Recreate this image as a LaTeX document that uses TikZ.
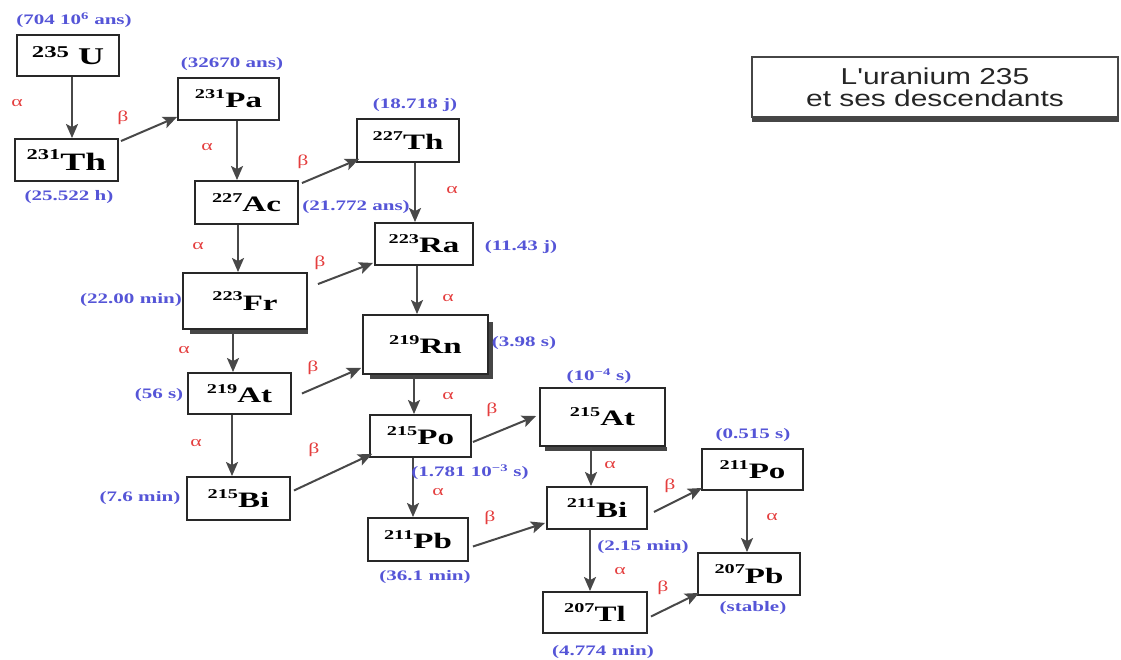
\documentclass[tikz,border=0pt]{standalone}
\usepackage{fontspec}
\setmainfont{Liberation Serif}
\newfontfamily\wideserif[FakeStretch=1.5]{Liberation Serif}
\newfontfamily\labelserif[FakeStretch=1.45]{Liberation Serif}
\newfontfamily\titlesans[FakeStretch=1.3]{Liberation Sans}
\usetikzlibrary{arrows.meta}

\definecolor{halfblue}{RGB}{85,85,215}
\definecolor{decayred}{RGB}{228,62,62}
\definecolor{ink}{RGB}{40,40,40}
\definecolor{wire}{RGB}{72,72,72}
\definecolor{shade}{RGB}{70,70,70}

% mass number raised before the element symbol
\newcommand{\nuc}[3][13.5]{\raisebox{0.42em}{\fontsize{#1}{#1}\selectfont #2}#3}

\tikzset{
  nucbox/.style={draw=ink, line width=1.9pt, inner sep=0pt,
    font=\wideserif\bfseries\fontsize{22}{24}\selectfont},
  sz/.style 2 args={minimum width=#1pt, minimum height=#2pt},
  halflife/.style={text=halfblue, inner sep=0pt,
    font=\labelserif\bfseries\fontsize{14.5}{16}\selectfont},
  decay/.style={text=decayred, inner sep=0pt,
    font=\labelserif\fontsize{15}{16}\selectfont},
  conn/.style={draw=wire, line width=2pt,
    -{Stealth[length=14pt,width=12pt,inset=3pt]}},
  shadowline/.style={draw=shade, line width=4.5pt},
}

\begin{document}
\begin{tikzpicture}[x=1pt, y=-1pt]
\useasboundingbox (0,0) rectangle (1121,659);

% ---- title box ----
\node[draw=shade, line width=1.2pt, sz={366}{60}, inner sep=0pt, text=black!85,
      font=\titlesans\fontsize{23}{25}\selectfont, align=center] (title) at (935,87)
  {L'uranium 235\\[-3pt]et ses descendants};
\draw[shadowline, line width=4pt] ([shift={(1,2.5)}]title.south west) -- ([shift={(0,2.5)}]title.south east);

% ---- nuclides ----
\node[nucbox, sz={102}{41}, font=\wideserif\bfseries\fontsize{24}{26}\selectfont]
  (U235) at (68,55.5) {\raisebox{0.28em}{\fontsize{16.5}{16}\selectfont 235}~U};
\node[nucbox, sz={103}{42}, font=\wideserif\bfseries\fontsize{25}{26}\selectfont]
  (Th231) at (66.5,160) {\nuc[15]{231}{Th}};
\node[nucbox, sz={101}{42}] (Pa231) at (228.5,99) {\nuc{231}{Pa}};
\node[nucbox, sz={103}{43}] (Ac227) at (246.5,202.5) {\nuc{227}{Ac}};
\node[nucbox, sz={102}{43}] (Th227) at (408,140.5) {\nuc{227}{Th}};
\node[nucbox, sz={98}{42}] (Ra223) at (424,244) {\nuc{223}{Ra}};
\node[nucbox, sz={124}{56}] (Fr223) at (245,301) {\nuc{223}{Fr}};
\node[nucbox, sz={125}{59}] (Rn219) at (425.5,344.5) {\nuc{219}{Rn}};
\node[nucbox, sz={103}{41}] (At219) at (239.5,393.5) {\nuc{219}{At}};
\node[nucbox, sz={101}{42}] (Po215) at (420.5,436) {\nuc{215}{Po}};
\node[nucbox, sz={125}{58}] (At215) at (602.5,417) {\nuc{215}{At}};
\node[nucbox, sz={103}{43}] (Bi215) at (238.5,498.5) {\nuc{215}{Bi}};
\node[nucbox, sz={100}{42}] (Bi211) at (597,508) {\nuc{211}{Bi}};
\node[nucbox, sz={101}{41}] (Po211) at (752.5,469.5) {\nuc{211}{Po}};
\node[nucbox, sz={100}{43}] (Pb211) at (418,539.5) {\nuc{211}{Pb}};
\node[nucbox, sz={102}{42}] (Pb207) at (749,574) {\nuc{207}{Pb}};
\node[nucbox, sz={104}{41}] (Tl207) at (595,612.5) {\nuc{207}{Tl}};

% shaded lower edges of the larger boxes
\draw[shadowline] ([shift={(8,2.2)}]Fr223.south west) -- ([shift={(0,2.2)}]Fr223.south east);
\draw[shadowline, line join=miter] ([shift={(8,2.2)}]Rn219.south west) -- ([shift={(2.2,2.2)}]Rn219.south east)
                  -- ([shift={(2.2,8)}]Rn219.north east);
\draw[shadowline] ([shift={(6,2.2)}]At215.south west) -- ([shift={(1,2.2)}]At215.south east);

% ---- alpha decays (vertical) ----
\draw[conn] (U235.south -| 72,0) -- (Th231.north -| 72,0);
\draw[conn] (Pa231.south -| 237,0) -- (Ac227.north -| 237,0);
\draw[conn] (Th227.south -| 415,0) -- (Ra223.north -| 415,0);
\draw[conn] (Ac227.south -| 238,0) -- (Fr223.north -| 238,0);
\draw[conn] (Ra223.south -| 417,0) -- (Rn219.north -| 417,0);
\draw[conn] (Fr223.south -| 233,0) -- (At219.north -| 233,0);
\draw[conn] (Rn219.south -| 414,0) -- (Po215.north -| 414,0);
\draw[conn] (At219.south -| 232,0) -- (Bi215.north -| 232,0);
\draw[conn] (Po215.south -| 413,0) -- (Pb211.north -| 413,0);
\draw[conn] (At215.south -| 591,0) -- (Bi211.north -| 591,0);
\draw[conn] (Bi211.south -| 590,0) -- (Tl207.north -| 590,0);
\draw[conn] (Po211.south -| 747,0) -- (Pb207.north -| 747,0);

% ---- beta decays (diagonal) ----
\draw[conn] ([shift={(2,3)}]Th231.north east) -- ([shift={(0,-4)}]Pa231.south west);
\draw[conn] ([shift={(3,3)}]Ac227.north east) -- ([shift={(3,-4)}]Th227.south west);
\draw[conn] ([shift={(10,12)}]Fr223.north east) -- ([shift={(-1,-3)}]Ra223.south west);
\draw[conn] ([shift={(10,0)}]At219.east) -- ([shift={(-1,-7)}]Rn219.south west);
\draw[conn] ([shift={(3,-8)}]Bi215.east) -- ([shift={(3,-4)}]Po215.south west);
\draw[conn] ([shift={(1,6)}]Po215.east) -- ([shift={(-3,-1)}]At215.west);
\draw[conn] ([shift={(4,7)}]Pb211.east) -- ([shift={(-1,-7)}]Bi211.south west);
\draw[conn] ([shift={(6,4)}]Bi211.east) -- ([shift={(1,-3)}]Po211.south west);
\draw[conn] ([shift={(3,4)}]Tl207.east) -- ([shift={(2,-3)}]Pb207.south west);

% ---- half-lives ----
\node[halflife] (tU235) at (74,20) {(704 10\textsuperscript{6} ans)};
\node[halflife] (tPa231) at (232,64) {(32670 ans)};
\node[halflife] (tTh231) at (69,197) {(25.522 h)};
\node[halflife] (tTh227) at (415,105) {(18.718 j)};
\node[halflife] (tAc227) at (356,207) {(21.772 ans)};
\node[halflife] (tRa223) at (521,247) {(11.43 j)};
\node[halflife] (tFr223) at (131,300) {(22.00 min)};
\node[halflife] (tRn219) at (524,343) {(3.98 s)};
\node[halflife] (tAt219) at (159,395) {(56 s)};
\node[halflife] (tAt215) at (599,376) {(10\textsuperscript{−4} s)};
\node[halflife] (tPo215) at (470,472) {(1.781 10\textsuperscript{−3} s)};
\node[halflife] (tPo211) at (753,435) {(0.515 s)};
\node[halflife] (tBi215) at (140,498) {(7.6 min)};
\node[halflife] (tBi211) at (643,547) {(2.15 min)};
\node[halflife] (tPb211) at (425,577) {(36.1 min)};
\node[halflife] (tPb207) at (753,608) {(stable)};
\node[halflife] (tTl207) at (603,652) {(4.774 min)};

% ---- decay modes ----
\node[decay] (a1) at (17,103) {α};
\node[decay] (a2) at (207,147) {α};
\node[decay] (a3) at (452,190) {α};
\node[decay] (a4) at (198,246) {α};
\node[decay] (a5) at (448,298) {α};
\node[decay] (a6) at (184,350) {α};
\node[decay] (a7) at (448,396) {α};
\node[decay] (a8) at (196,443) {α};
\node[decay] (a9) at (438,492) {α};
\node[decay] (a10) at (610,465) {α};
\node[decay] (a11) at (772,517) {α};
\node[decay] (a12) at (620,571) {α};

\node[decay] (b1) at (123,118) {β};
\node[decay] (b2) at (303,162) {β};
\node[decay] (b3) at (320,263) {β};
\node[decay] (b4) at (313,368) {β};
\node[decay] (b5) at (314,450) {β};
\node[decay] (b6) at (492,410) {β};
\node[decay] (b7) at (490,518) {β};
\node[decay] (b8) at (670,486) {β};
\node[decay] (b9) at (663,588) {β};
\end{tikzpicture}
\end{document}
